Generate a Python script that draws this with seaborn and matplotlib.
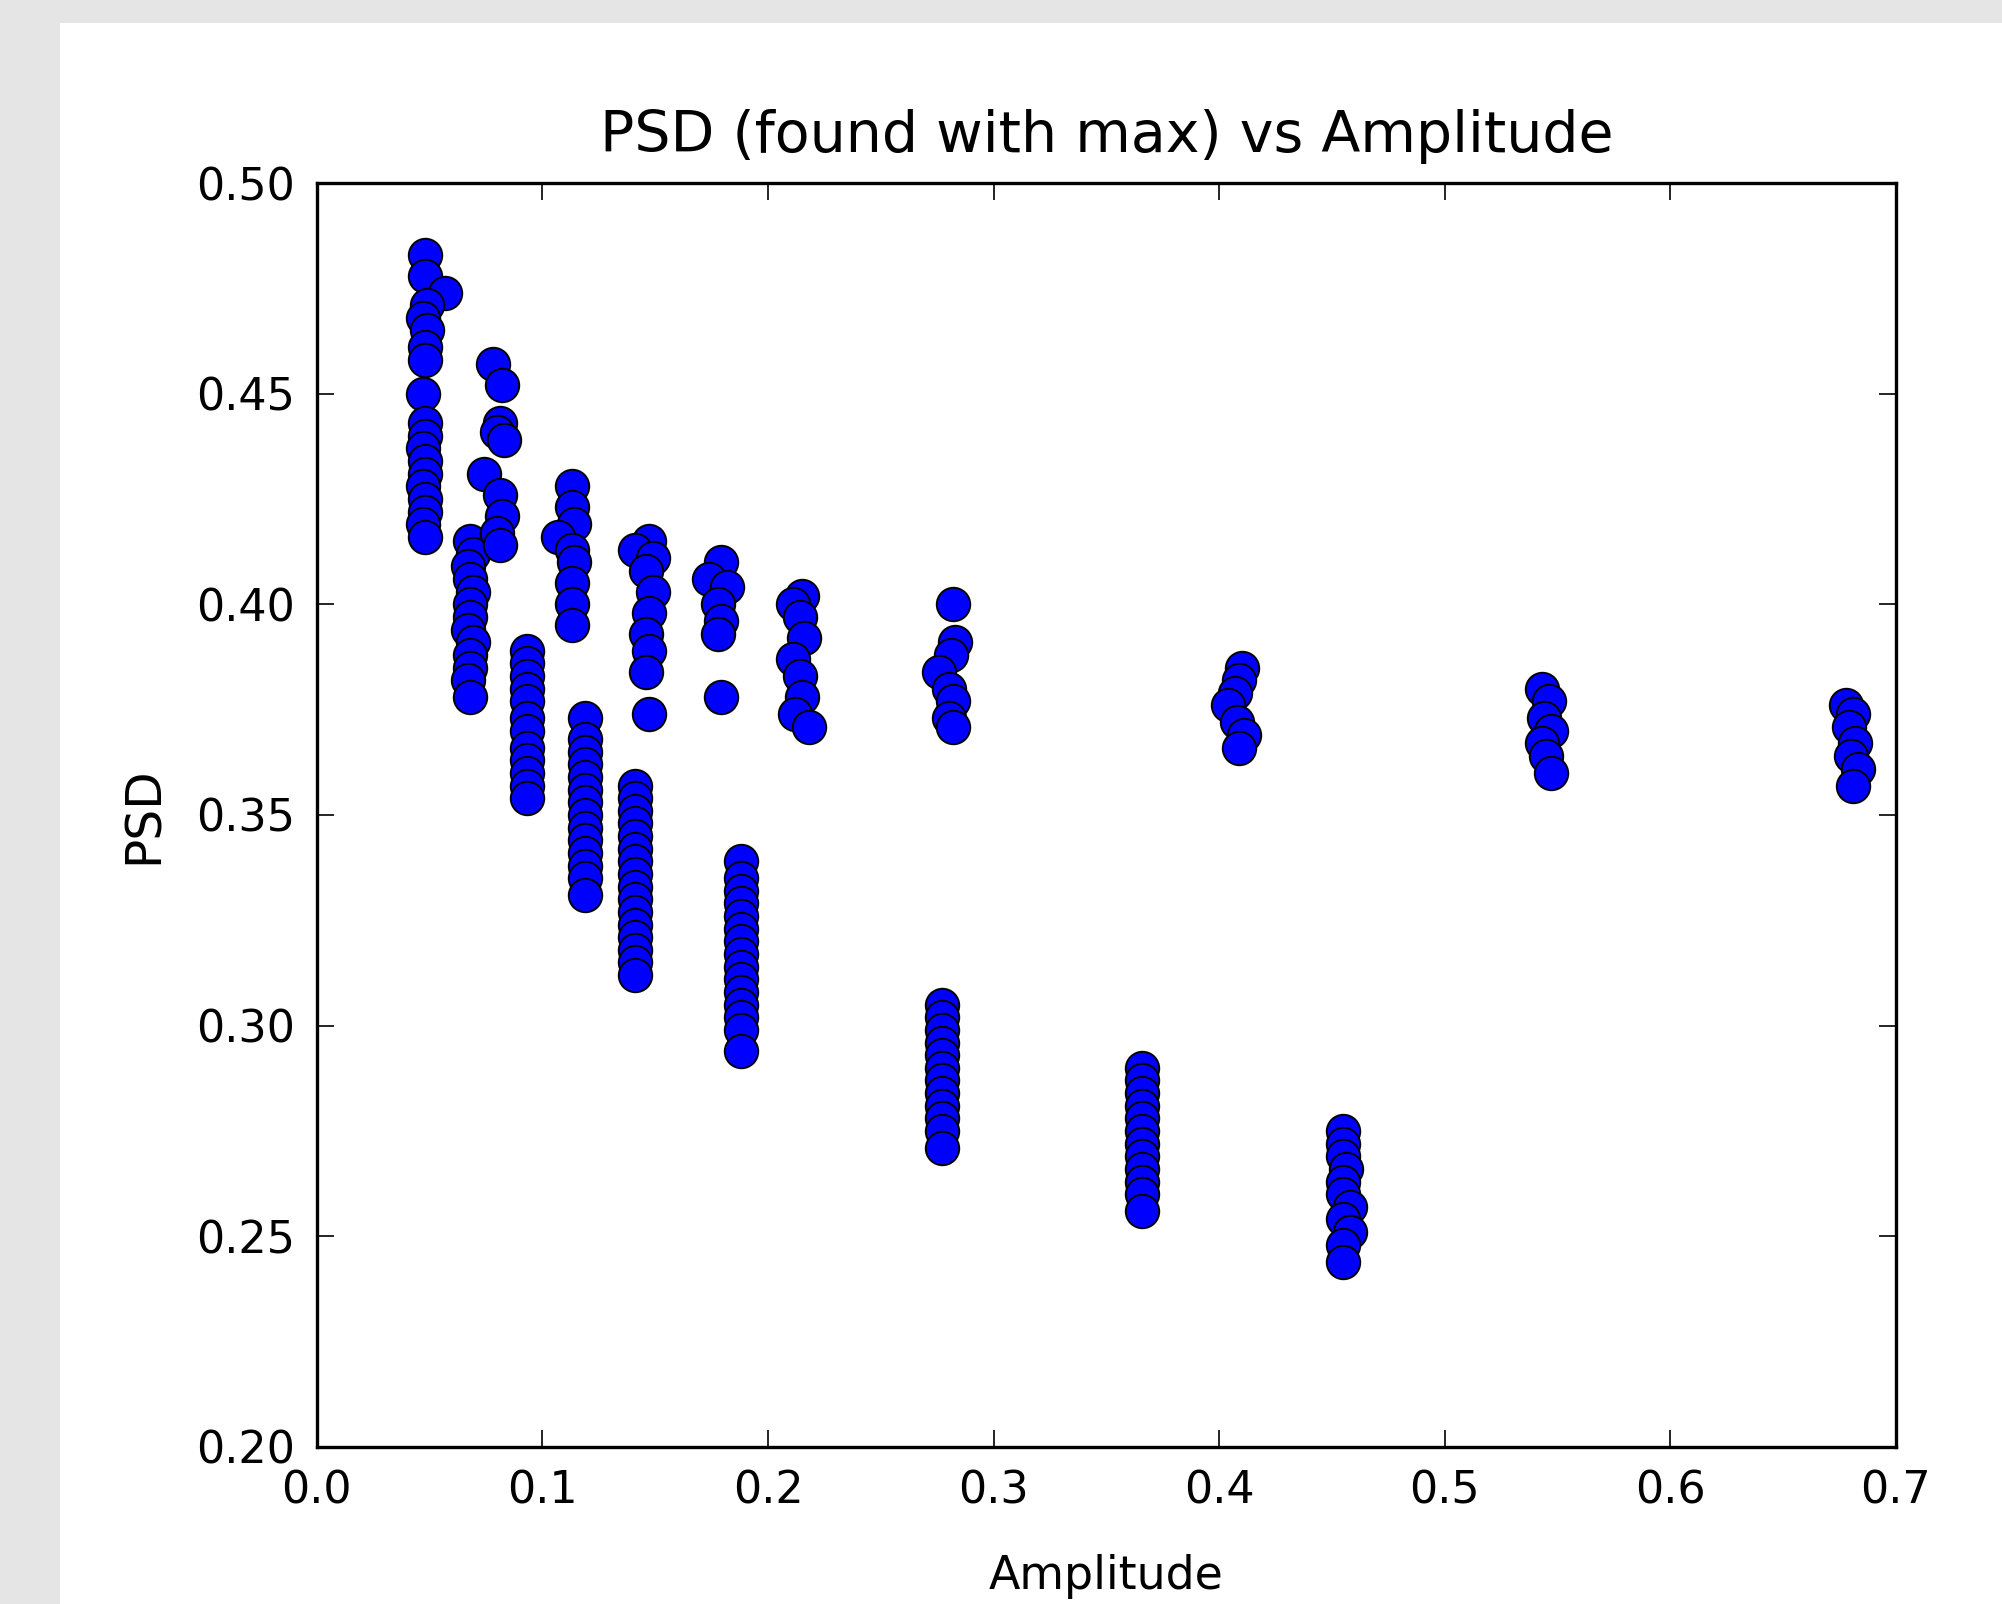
import pandas as pd
import matplotlib
matplotlib.use('Agg')
import matplotlib.pyplot as plt
from matplotlib.patches import Rectangle
import seaborn as sns

# Amplitude / PSD pairs, one group per vertical cluster
amp_a = [0.048, 0.048, 0.057, 0.049, 0.047, 0.049, 0.048, 0.048, 0.047, 0.048,
         0.048, 0.047, 0.048, 0.048, 0.047, 0.048, 0.048, 0.047, 0.048]
psd_a = [0.483, 0.478, 0.474, 0.471, 0.468, 0.465, 0.461, 0.458, 0.450, 0.443,
         0.440, 0.437, 0.434, 0.431, 0.428, 0.425, 0.422, 0.419, 0.416]
amp_b = [0.068, 0.069, 0.067, 0.068, 0.069, 0.068, 0.068, 0.067, 0.069, 0.068,
         0.068, 0.067, 0.068]
psd_b = [0.415, 0.412, 0.409, 0.406, 0.403, 0.400, 0.397, 0.394, 0.391, 0.388,
         0.385, 0.382, 0.378]
amp_c = [0.078, 0.082, 0.081, 0.080, 0.083, 0.074, 0.081, 0.082, 0.080, 0.081]
psd_c = [0.457, 0.452, 0.443, 0.441, 0.439, 0.431, 0.426, 0.421, 0.417, 0.414]
amp_d = [0.093] * 12
psd_d = [0.389, 0.386, 0.383, 0.380, 0.377, 0.373, 0.370, 0.366, 0.363, 0.360,
         0.357, 0.354]
amp_e = [0.113, 0.113, 0.114, 0.107, 0.113, 0.114, 0.113, 0.113, 0.113]
psd_e = [0.428, 0.423, 0.419, 0.416, 0.413, 0.410, 0.405, 0.400, 0.395]
amp_f = [0.119] * 14
psd_f = [0.373, 0.368, 0.365, 0.362, 0.359, 0.356, 0.353, 0.350, 0.347, 0.344,
         0.341, 0.338, 0.335, 0.331]
amp_g = [0.141] * 16
psd_g = [0.357, 0.354, 0.351, 0.348, 0.345, 0.342, 0.339, 0.336, 0.333, 0.330,
         0.327, 0.324, 0.321, 0.318, 0.315, 0.312]
amp_h = [0.147, 0.141, 0.149, 0.146, 0.149, 0.147, 0.146, 0.147, 0.146, 0.147]
psd_h = [0.415, 0.413, 0.411, 0.408, 0.403, 0.398, 0.393, 0.389, 0.384, 0.374]
amp_i = [0.179, 0.174, 0.182, 0.178, 0.179, 0.178, 0.179]
psd_i = [0.410, 0.406, 0.404, 0.400, 0.396, 0.393, 0.378]
amp_j = [0.188] * 15
psd_j = [0.339, 0.335, 0.332, 0.329, 0.326, 0.323, 0.320, 0.317, 0.314, 0.311,
         0.308, 0.305, 0.302, 0.299, 0.294]
amp_k = [0.215, 0.211, 0.214, 0.216, 0.211, 0.214, 0.215, 0.212, 0.218]
psd_k = [0.402, 0.400, 0.397, 0.392, 0.387, 0.383, 0.378, 0.374, 0.371]
amp_l = [0.277] * 12
psd_l = [0.305, 0.302, 0.299, 0.296, 0.293, 0.290, 0.287, 0.284, 0.281, 0.278,
         0.275, 0.271]
amp_m = [0.282, 0.283, 0.281, 0.276, 0.280, 0.282, 0.280, 0.282]
psd_m = [0.400, 0.391, 0.388, 0.384, 0.380, 0.377, 0.373, 0.371]
amp_n = [0.366] * 12
psd_n = [0.290, 0.287, 0.284, 0.281, 0.278, 0.275, 0.272, 0.269, 0.266, 0.263,
         0.260, 0.256]
amp_o = [0.410, 0.409, 0.407, 0.404, 0.408, 0.411, 0.409]
psd_o = [0.385, 0.382, 0.379, 0.376, 0.372, 0.369, 0.366]
amp_p = [0.455, 0.455, 0.455, 0.456, 0.455, 0.455, 0.458, 0.455, 0.458, 0.455, 0.455]
psd_p = [0.275, 0.272, 0.269, 0.266, 0.263, 0.260, 0.257, 0.254, 0.251, 0.248, 0.244]
amp_q = [0.543, 0.546, 0.544, 0.547, 0.543, 0.545, 0.547]
psd_q = [0.380, 0.377, 0.373, 0.370, 0.367, 0.364, 0.360]
amp_r = [0.678, 0.681, 0.679, 0.682, 0.680, 0.683, 0.681]
psd_r = [0.376, 0.374, 0.371, 0.367, 0.364, 0.361, 0.357]

amplitude = (amp_a + amp_b + amp_c + amp_d + amp_e + amp_f + amp_g + amp_h + amp_i
             + amp_j + amp_k + amp_l + amp_m + amp_n + amp_o + amp_p + amp_q + amp_r)
psd = (psd_a + psd_b + psd_c + psd_d + psd_e + psd_f + psd_g + psd_h + psd_i
       + psd_j + psd_k + psd_l + psd_m + psd_n + psd_o + psd_p + psd_q + psd_r)
df = pd.DataFrame({'Amplitude': amplitude, 'PSD': psd})

sns.set_theme(style="ticks")
plt.rcParams['font.family'] = ['DejaVu Sans']
plt.rcParams['text.color'] = 'black'
plt.rcParams['axes.labelcolor'] = 'black'
plt.rcParams['xtick.color'] = 'black'
plt.rcParams['ytick.color'] = 'black'
plt.rcParams['xtick.direction'] = 'in'
plt.rcParams['ytick.direction'] = 'in'

fig = plt.figure(figsize=(20.02, 16.04), dpi=100)
fig.patch.set_facecolor('#e5e5e5')
# white panel behind the plot
panel = Rectangle((0.03, 0), 0.97, 0.9855, transform=fig.transFigure,
                  facecolor='white', edgecolor='none', zorder=-10)
fig.add_artist(panel)
ax = fig.add_axes([0.1583, 0.0979, 0.7887, 0.788])
ax.set_zorder(1)

sns.scatterplot(data=df, x='Amplitude', y='PSD', ax=ax, color='blue',
                edgecolor='black', linewidth=1.4, s=580, zorder=3)

ax.set_xlim(0.0, 0.7)
ax.set_ylim(0.20, 0.50)
ax.set_xticks([0.0, 0.1, 0.2, 0.3, 0.4, 0.5, 0.6, 0.7])
ax.set_xticklabels(['0.0', '0.1', '0.2', '0.3', '0.4', '0.5', '0.6', '0.7'])
ax.set_yticks([0.20, 0.25, 0.30, 0.35, 0.40, 0.45, 0.50])
ax.set_yticklabels(['0.20', '0.25', '0.30', '0.35', '0.40', '0.45', '0.50'])
ax.tick_params(axis='both', which='major', direction='in', length=12, width=1.2,
               top=True, right=True, labelsize=32, pad=16,
               color='black', labelcolor='black')
for sp in ax.spines.values():
    sp.set_linewidth(2.4)
    sp.set_color('black')
ax.set_facecolor('white')

ax.set_title('PSD (found with max) vs Amplitude', fontsize=41, pad=22, color='black')
ax.set_xlabel('Amplitude', fontsize=33, labelpad=30, color='black')
ax.set_ylabel('PSD', fontsize=35, labelpad=20, color='black')

fig.savefig('out.png', dpi=100, facecolor=fig.get_facecolor())
